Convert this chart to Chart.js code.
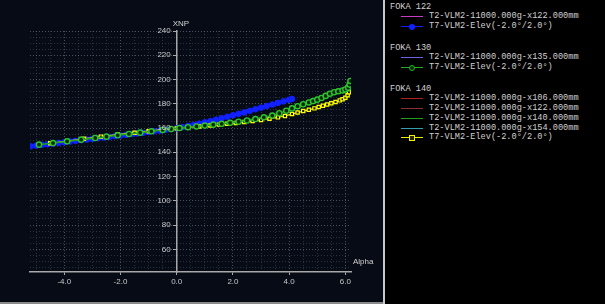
<!DOCTYPE html>
<html>
<head>
<meta charset="utf-8">
<script src="https://cdn.jsdelivr.net/npm/chart.js@4.4.1/dist/chart.umd.min.js"></script>
<style>
  body { margin: 0; width: 605px; height: 304px; background: #000; overflow: hidden; position: relative; }
  #left { position: absolute; left: 0; top: 0; width: 383px; height: 302px; background: #060b16; border-bottom: 2px solid #8a8a8a; }
  #sep { position: absolute; left: 383px; top: 0; width: 2px; height: 304px; background: #c8c8c8; }
  #legend { position: absolute; left: 385px; top: 0; width: 220px; height: 304px; background: #000;
            font-family: "Liberation Mono", "DejaVu Sans Mono", monospace; font-size: 8.6px; color: #d0d0d0; }
  .row { position: absolute; white-space: pre; line-height: 10px; height: 10px; }
  .sw { position: absolute; height: 1px; }
  .mk { position: absolute; box-sizing: border-box; }
</style>
</head>
<body>
<div id="left"><canvas id="chart" width="383" height="302"></canvas></div>
<div id="sep"></div>
<div id="legend"></div>
<script>
// FOKA 122 - T7-VLM2-Elev(-2.0°/2.0°)
const blueAlpha = [-5.2, -5.0, -4.8, -4.6, -4.4, -4.2, -4.0, -3.8, -3.6, -3.4, -3.2, -3.0, -2.8, -2.6, -2.4, -2.2, -2.0,
  -1.8, -1.6, -1.4, -1.2, -1.0, -0.8, -0.6, -0.4, -0.2, 0.0, 0.2, 0.4, 0.6, 0.8, 1.0, 1.2, 1.4, 1.6, 1.8, 2.0,
  2.2, 2.4, 2.6, 2.8, 3.0, 3.2, 3.4, 3.6, 3.8, 4.0, 4.1];
const blueXnp = [145.0, 145.5, 146.1, 146.6, 147.2, 147.8, 148.3, 148.9, 149.4, 150.0, 150.5, 151.1, 151.6, 152.2, 152.7, 153.3, 153.8,
  154.4, 155.0, 155.5, 156.1, 156.7, 157.3, 157.9, 158.5, 159.1, 159.8, 160.7, 161.7, 162.6, 163.6, 164.7, 165.8, 166.9, 168.1, 169.3, 170.5,
  171.7, 172.9, 174.2, 175.5, 176.8, 178.1, 179.4, 180.7, 182.0, 183.3, 184.0];

// FOKA 130 - T7-VLM2-Elev(-2.0°/2.0°)
const greenAlpha = [-4.9, -4.4, -3.9, -3.4, -2.9, -2.5, -2.1, -1.7, -1.3, -0.9, -0.5, -0.2, 0.1, 0.4, 0.7, 1.0, 1.3, 1.6, 1.9,
  2.2, 2.5, 2.8, 3.1, 3.4, 3.65, 3.9, 4.1, 4.3, 4.5, 4.7, 4.85, 5.0, 5.15, 5.3, 5.45, 5.6, 5.75, 5.9, 6.0, 6.1, 6.15, 6.18];
const greenXnp = [146.3, 147.6, 149.0, 150.4, 151.8, 152.9, 154.0, 155.1, 156.2, 157.3, 158.4, 159.2, 160.0, 160.7, 161.3, 162.0, 162.8, 163.5, 164.3,
  165.2, 166.2, 167.4, 168.8, 170.3, 172.2, 174.3, 176.2, 178.0, 179.6, 181.1, 182.2, 183.4, 184.8, 186.5, 188.3, 189.5, 190.3, 191.0, 191.8, 193.3, 195.8, 198.8];

// FOKA 140 - T7-VLM2-Elev(-2.0°/2.0°)
const yellowAlpha = [-4.5, -3.9, -3.3, -2.7, -2.1, -1.5, -1.0, -0.5, 0.0, 0.4, 0.8, 1.2, 1.5, 1.8, 2.1,
  2.4, 2.7, 3.0, 3.3, 3.6, 3.85, 4.1, 4.3, 4.5, 4.7, 4.9, 5.05, 5.2, 5.35, 5.5, 5.65, 5.8, 5.9, 6.0, 6.08, 6.13, 6.17];
const yellowXnp = [147.4, 149.2, 151.1, 152.9, 154.6, 156.1, 157.4, 158.6, 159.7, 160.5, 161.3, 162.1, 162.8, 163.5, 164.2,
  165.0, 165.8, 166.7, 167.7, 168.8, 170.0, 171.5, 172.8, 174.0, 175.0, 176.2, 177.3, 178.4, 179.4, 180.4, 181.5, 182.8, 183.8, 185.0, 187.0, 189.5, 193.5];

// y tick labels that carry text
const yTickLabels = [60, 80, 100, 120, 140, 160, 180, 200, 220, 240];

const legendGroups = ['FOKA 122', 'FOKA 130', 'FOKA 140'];
const legendNames = [
  ['T2-VLM2-11000.000g-x122.000mm', 'T7-VLM2-Elev(-2.0°/2.0°)'],
  ['T2-VLM2-11000.000g-x135.000mm', 'T7-VLM2-Elev(-2.0°/2.0°)'],
  ['T2-VLM2-11000.000g-x106.000mm', 'T2-VLM2-11000.000g-x122.000mm', 'T2-VLM2-11000.000g-x140.000mm',
   'T2-VLM2-11000.000g-x154.000mm', 'T7-VLM2-Elev(-2.0°/2.0°)']
];
const legendColors = [
  ['#c83cc8', '#1020ff'],
  ['#6a64e0', '#22b022'],
  ['#b02020', '#8a3030', '#20a020', '#30a0b0', '#f0f000']
];
const legendMarkers = [
  ['', 'dot'],
  ['', 'ring'],
  ['', '', '', '', 'square']
];

function toPoints(xs, ys) {
  return xs.map((x, i) => ({ x: x, y: ys[i] }));
}

// legend panel
const leg = document.getElementById('legend');
let rowY = 2;
legendGroups.forEach((g, gi) => {
  const t = document.createElement('div');
  t.className = 'row';
  t.style.left = '5px';
  t.style.top = rowY + 'px';
  t.textContent = g;
  leg.appendChild(t);
  rowY += 9;
  legendNames[gi].forEach((name, ni) => {
    const col = legendColors[gi][ni];
    const sw = document.createElement('div');
    sw.className = 'sw';
    sw.style.left = '16px'; sw.style.width = '22px';
    sw.style.top = (rowY + 5) + 'px';
    sw.style.background = col;
    leg.appendChild(sw);
    const m = legendMarkers[gi][ni];
    if (m) {
      const mk = document.createElement('div');
      mk.className = 'mk';
      mk.style.left = '24px'; mk.style.top = (rowY + 3) + 'px';
      mk.style.width = '6px'; mk.style.height = '6px';
      if (m === 'dot') { mk.style.background = col; mk.style.borderRadius = '50%'; }
      if (m === 'ring') { mk.style.border = '1.5px solid ' + col; mk.style.borderRadius = '50%'; mk.style.background = '#0a2a0e'; }
      if (m === 'square') { mk.style.border = '1.5px solid ' + col; mk.style.background = '#2a2a00'; }
      leg.appendChild(mk);
    }
    const r = document.createElement('div');
    r.className = 'row';
    r.style.left = '44px';
    r.style.top = rowY + 'px';
    r.textContent = name;
    leg.appendChild(r);
    rowY += 9.8;
  });
  rowY += 12.5;
});

// axis titles and y labels placed beside the centred y axis
const axisText = {
  id: 'axisText',
  afterDraw(chart) {
    const { ctx, chartArea, scales } = chart;
    const ax = scales.x.getPixelForValue(0);
    ctx.save();
    ctx.font = '8px "Liberation Sans", Arial, sans-serif';
    ctx.fillStyle = '#d0d0d0';
    ctx.textBaseline = 'middle';
    ctx.textAlign = 'left';
    ctx.fillText('XNP', ax - 4, chartArea.top - 7);
    ctx.fillText('Alpha', chartArea.right + 2, chartArea.bottom - 10);
    ctx.fillStyle = '#c8c8c8';
    ctx.textAlign = 'right';
    yTickLabels.forEach(v => {
      ctx.fillText(String(v), ax - 6, scales.y.getPixelForValue(v));
    });
    ctx.restore();
  }
};

const tickFont = { family: '"Liberation Sans", Arial, sans-serif', size: 8 };
const isMajorX = v => Math.abs(v / 2 - Math.round(v / 2)) < 1e-6;

new Chart(document.getElementById('chart'), {
  type: 'line',
  data: {
    datasets: [
      {
        label: 'FOKA 122 T7-VLM2-Elev(-2.0°/2.0°)',
        data: toPoints(blueAlpha, blueXnp),
        borderColor: '#1020ff', borderWidth: 3.5,
        pointRadius: 2.8, pointBackgroundColor: '#1020ff', pointBorderColor: '#1020ff', pointBorderWidth: 1,
        order: 3
      },
      {
        label: 'FOKA 130 T7-VLM2-Elev(-2.0°/2.0°)',
        data: toPoints(greenAlpha, greenXnp),
        borderColor: '#1f9f1f', borderWidth: 1.5,
        pointRadius: 2.6, pointBackgroundColor: '#0a2a0e', pointBorderColor: '#2ec42e', pointBorderWidth: 1.4,
        order: 1
      },
      {
        label: 'FOKA 140 T7-VLM2-Elev(-2.0°/2.0°)',
        data: toPoints(yellowAlpha, yellowXnp),
        borderColor: '#e6e600', borderWidth: 1.3,
        pointStyle: 'rect',
        pointRadius: 2.3, pointBackgroundColor: '#1a1a04', pointBorderColor: '#ffff00', pointBorderWidth: 1.2,
        order: 2
      }
    ]
  },
  options: {
    responsive: false,
    animation: false,
    layout: { padding: { left: 30, right: 32, top: 31, bottom: 0 } },
    plugins: { legend: { display: false }, tooltip: { enabled: false } },
    scales: {
      x: {
        type: 'linear',
        min: -5.22, max: 6.2,
        afterFit: s => { s.height = 30; },
        border: { color: '#a8a8a8', width: 1.5, dash: [1, 2] },
        grid: {
          color: c => (isMajorX(c.tick.value) ? 'rgba(140,150,170,0.5)' : 'rgba(95,105,125,0.4)'),
          tickLength: 3,
          tickColor: c => (isMajorX(c.tick.value) ? '#a8a8a8' : 'rgba(0,0,0,0)')
        },
        ticks: {
          stepSize: 0.5, autoSkip: false, includeBounds: false, maxRotation: 0, maxTicksLimit: 1000, padding: 2,
          color: '#c8c8c8', font: tickFont,
          callback: v => (isMajorX(v) ? v.toFixed(1) : '')
        }
      },
      y: {
        type: 'linear',
        min: 41.3, max: 240,
        position: { x: 0 },
        afterFit: s => { s.width = 0; },
        border: { color: '#a8a8a8', width: 1.5, dash: [1, 2] },
        grid: {
          color: c => (c.tick.value % 20 === 0 ? 'rgba(140,150,170,0.5)' : 'rgba(95,105,125,0.4)'),
          tickLength: 3,
          tickColor: c => (c.tick.value % 20 === 0 ? '#a8a8a8' : 'rgba(0,0,0,0)')
        },
        ticks: {
          display: false,
          stepSize: 5, autoSkip: false, includeBounds: false, maxTicksLimit: 1000
        }
      }
    }
  },
  plugins: [axisText]
});
</script>
</body>
</html>
